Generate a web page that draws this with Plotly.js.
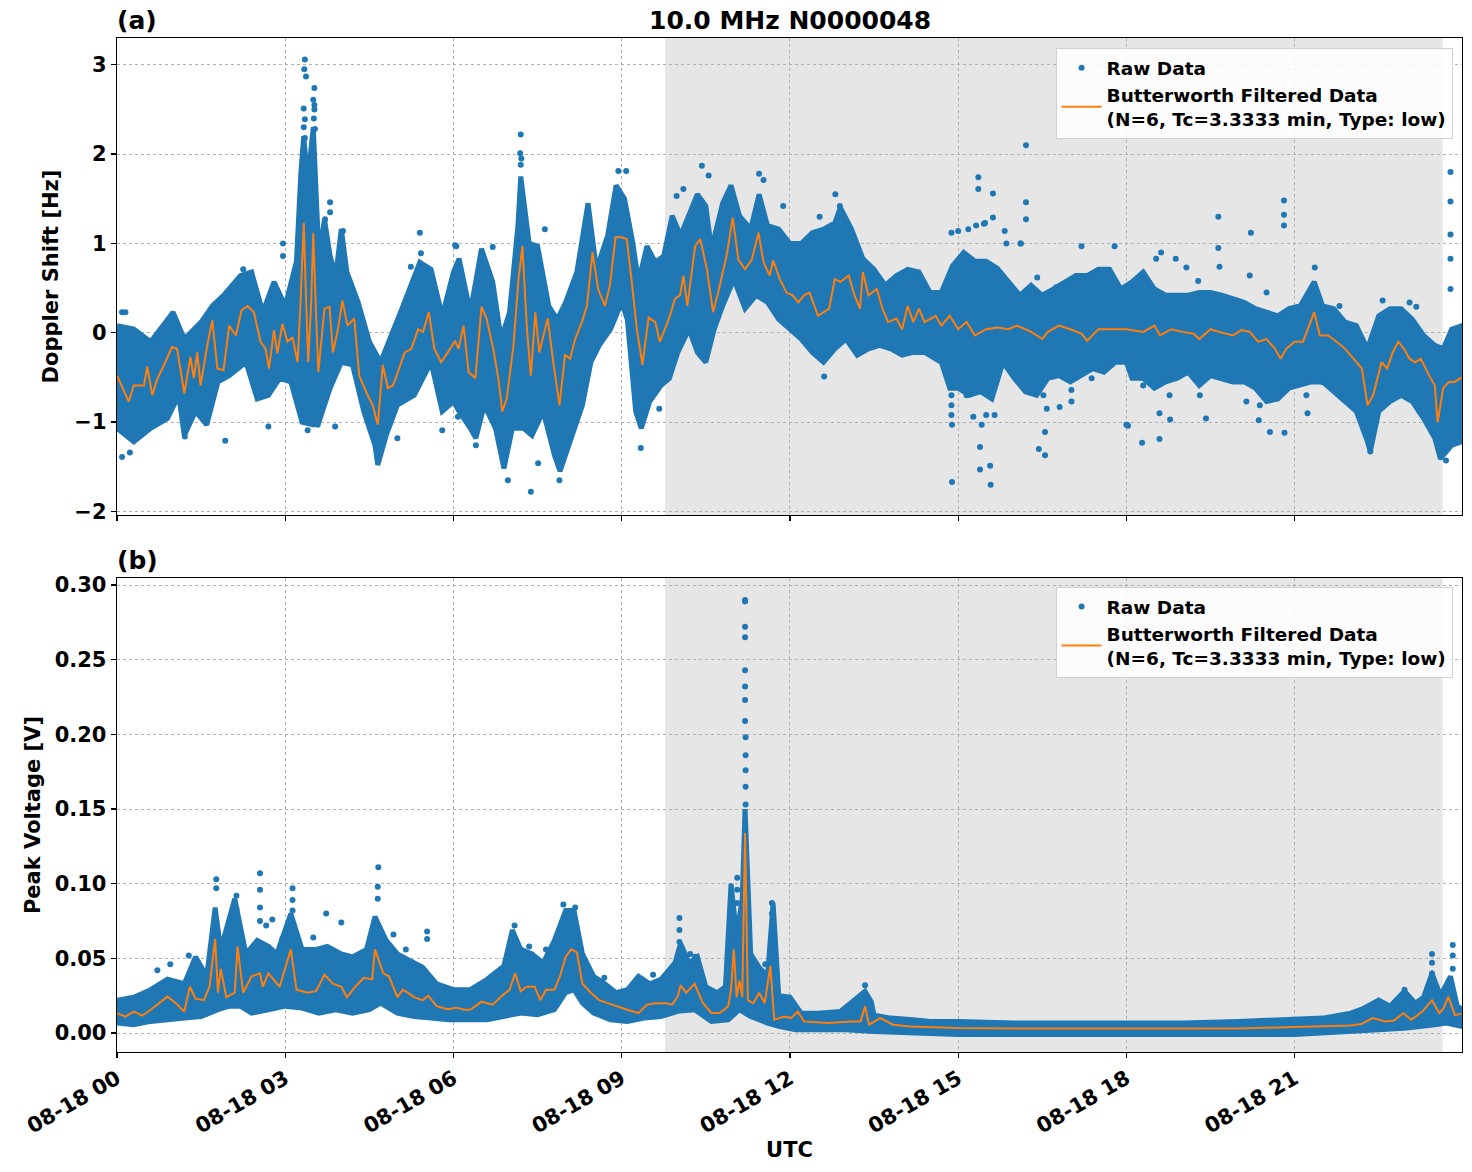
<!DOCTYPE html>
<html>
<head>
<meta charset="utf-8">
<script src="https://cdn.plot.ly/plotly-3.0.1.min.js"></script>
<style>html,body{margin:0;padding:0;background:#fff;}#chart{width:1472px;height:1172px;}</style>
</head>
<body>
<div id="chart"></div>
<script>
// ---------- DATA (hours UTC on 2024-08-18) ----------
// Panel (a): Doppler shift [Hz]
const filtA_h = [0.00,0.21,0.30,0.48,0.54,0.63,0.71,0.78,0.86,0.98,1.07,1.13,1.20,1.31,1.37,1.43,1.49,1.61,1.70,1.79,1.90,2.00,2.12,2.22,2.33,2.44,2.56,2.65,2.71,2.80,2.86,2.95,3.04,3.13,3.22,3.27,3.33,3.37,3.41,3.46,3.50,3.55,3.59,3.70,3.79,3.85,3.94,4.02,4.11,4.23,4.32,4.47,4.56,4.65,4.74,4.83,4.92,5.01,5.13,5.25,5.37,5.46,5.56,5.66,5.78,5.90,6.03,6.09,6.18,6.27,6.39,6.50,6.59,6.71,6.80,6.87,6.95,7.07,7.16,7.23,7.31,7.38,7.46,7.53,7.60,7.68,7.78,7.89,7.99,8.08,8.17,8.29,8.38,8.48,8.58,8.70,8.79,8.89,9.00,9.09,9.18,9.27,9.37,9.48,9.60,9.68,9.77,9.86,9.95,10.04,10.10,10.17,10.31,10.40,10.52,10.63,10.72,10.87,10.98,11.08,11.20,11.32,11.44,11.53,11.64,11.70,11.82,11.94,12.05,12.15,12.25,12.35,12.50,12.60,12.70,12.80,12.90,13.05,13.15,13.25,13.30,13.40,13.55,13.65,13.75,13.90,14.00,14.10,14.20,14.30,14.40,14.60,14.70,14.85,15.00,15.15,15.30,15.50,15.70,15.90,16.05,16.30,16.50,16.60,16.80,17.00,17.20,17.30,17.50,17.70,18.00,18.30,18.50,18.60,18.80,19.00,19.20,19.30,19.50,19.65,19.90,20.05,20.20,20.35,20.50,20.65,20.75,20.85,21.00,21.15,21.35,21.45,21.60,21.75,21.90,22.05,22.20,22.30,22.40,22.55,22.65,22.75,22.85,22.95,23.05,23.15,23.25,23.40,23.50,23.55,23.65,23.75,23.85,23.98];
const filtA_v = [-0.48,-0.77,-0.59,-0.59,-0.38,-0.70,-0.53,-0.44,-0.33,-0.16,-0.18,-0.40,-0.68,-0.27,-0.51,-0.22,-0.59,-0.14,0.14,-0.40,-0.42,0.08,-0.03,0.25,0.30,0.23,-0.10,-0.18,-0.40,0.03,-0.23,0.10,-0.10,-0.05,-0.33,0.30,1.23,0.40,-0.33,0.30,1.12,0.20,-0.44,0.27,0.29,-0.22,0.04,0.36,0.08,0.16,-0.48,-0.70,-0.81,-1.03,-0.36,-0.62,-0.59,-0.44,-0.22,-0.18,0.04,0.01,0.23,-0.18,-0.33,-0.22,-0.09,-0.18,0.08,-0.44,-0.51,0.29,0.16,-0.18,-0.51,-0.88,-0.74,-0.14,0.60,0.97,0.04,-0.48,0.23,-0.22,-0.03,0.16,-0.33,-0.81,-0.25,-0.29,-0.07,0.12,0.30,0.90,0.49,0.30,0.53,1.07,1.07,1.05,0.57,0.04,-0.36,0.17,0.12,-0.10,0.04,0.19,0.38,0.42,0.64,0.30,0.97,1.05,0.71,0.23,0.45,0.86,1.29,0.82,0.71,0.82,1.12,0.79,0.64,0.81,0.60,0.45,0.42,0.34,0.42,0.45,0.19,0.23,0.27,0.60,0.57,0.64,0.42,0.27,0.68,0.42,0.49,0.27,0.12,0.16,0.04,0.30,0.12,0.27,0.12,0.19,0.08,0.19,0.04,0.12,-0.03,0.04,0.06,0.04,0.08,0.01,-0.07,0.01,0.08,0.04,-0.01,-0.09,0.04,0.04,0.04,0.01,0.08,-0.03,0.04,0.01,-0.01,-0.07,0.04,0.01,-0.03,0.03,0.01,-0.10,-0.07,-0.18,-0.29,-0.18,-0.10,-0.10,0.23,-0.03,-0.03,-0.10,-0.18,-0.29,-0.40,-0.81,-0.70,-0.33,-0.40,-0.22,-0.10,-0.18,-0.29,-0.33,-0.29,-0.48,-0.59,-1.00,-0.62,-0.55,-0.55,-0.50];

const upA_h = [0.00,0.30,0.60,0.90,1.00,1.20,1.50,1.70,1.90,2.20,2.40,2.60,2.80,3.00,3.20,3.28,3.33,3.40,3.50,3.60,3.70,3.80,3.90,4.00,4.10,4.30,4.50,4.70,4.90,5.10,5.40,5.60,5.80,6.00,6.10,6.30,6.50,6.70,6.85,7.00,7.15,7.20,7.27,7.35,7.50,7.70,7.85,8.00,8.20,8.40,8.55,8.75,8.90,9.05,9.20,9.30,9.45,9.60,9.75,9.90,10.05,10.20,10.35,10.50,10.60,10.80,10.95,11.10,11.30,11.45,11.60,11.80,12.00,12.20,12.40,12.60,12.80,12.90,13.10,13.30,13.50,13.70,13.90,14.10,14.30,14.50,14.70,14.90,15.10,15.30,15.50,15.70,15.90,16.10,16.30,16.50,16.70,16.90,17.10,17.30,17.50,17.70,17.90,18.10,18.30,18.50,18.70,18.90,19.10,19.30,19.50,19.70,19.90,20.10,20.30,20.50,20.70,20.90,21.10,21.35,21.50,21.70,21.90,22.10,22.30,22.50,22.70,22.90,23.10,23.30,23.50,23.65,23.80,23.98];
const upA_v = [0.08,0.04,-0.10,0.16,0.23,-0.07,0.12,0.30,0.42,0.64,0.68,0.23,0.57,0.30,0.80,1.80,2.20,1.70,2.30,0.86,1.27,0.86,0.64,1.16,0.68,0.34,-0.10,-0.33,-0.03,0.30,0.79,0.71,0.19,0.68,0.83,0.23,0.94,0.57,-0.07,0.23,1.20,1.75,1.40,1.00,0.97,0.30,0.15,0.34,0.68,1.45,0.71,1.09,1.65,1.50,1.00,0.57,0.97,0.79,0.86,1.31,1.09,1.31,1.55,1.42,0.94,1.45,1.65,1.31,1.16,1.55,1.20,1.16,1.00,1.00,1.12,1.16,1.23,1.40,1.16,0.83,0.71,0.53,0.64,0.71,0.68,0.45,0.45,0.75,0.90,0.80,0.80,0.72,0.57,0.42,0.53,0.42,0.49,0.57,0.64,0.64,0.71,0.71,0.49,0.57,0.68,0.49,0.42,0.42,0.42,0.45,0.45,0.42,0.38,0.34,0.27,0.23,0.19,0.27,0.30,0.57,0.30,0.27,0.12,0.08,-0.18,0.19,0.27,0.27,0.15,-0.03,-0.14,-0.18,0.04,0.08];

const loA_h = [0.00,0.30,0.60,0.90,1.10,1.20,1.40,1.60,1.80,2.00,2.30,2.50,2.70,2.90,3.10,3.30,3.50,3.60,3.80,4.00,4.20,4.40,4.60,4.65,4.80,5.00,5.30,5.60,5.80,6.00,6.10,6.30,6.40,6.55,6.75,6.90,7.05,7.25,7.40,7.60,7.80,7.90,8.10,8.30,8.45,8.60,8.80,9.00,9.10,9.25,9.35,9.50,9.70,9.85,10.00,10.20,10.35,10.50,10.65,10.80,11.00,11.20,11.40,11.60,11.80,12.00,12.20,12.40,12.60,12.80,13.00,13.20,13.40,13.60,13.80,14.00,14.20,14.40,14.70,14.85,15.00,15.20,15.40,15.60,15.80,16.00,16.20,16.40,16.60,16.80,17.00,17.20,17.40,17.60,17.80,18.00,18.10,18.30,18.50,18.70,18.90,19.10,19.30,19.50,19.70,19.90,20.10,20.30,20.50,20.70,20.90,21.10,21.30,21.50,21.70,21.90,22.10,22.30,22.35,22.50,22.70,22.90,23.10,23.30,23.50,23.60,23.80,23.98];
const loA_v = [-1.07,-1.22,-1.07,-0.96,-0.70,-1.15,-0.88,-1.03,-0.55,-0.48,-0.33,-0.74,-0.70,-0.51,-0.55,-1.00,-1.03,-1.00,-0.62,-0.33,-0.36,-0.88,-1.26,-1.48,-1.15,-0.81,-0.70,-0.33,-0.88,-0.77,-0.88,-1.07,-1.18,-0.81,-1.07,-1.52,-1.07,-1.07,-1.15,-0.88,-1.37,-1.55,-1.18,-0.81,-0.33,-0.14,0.04,0.34,0.15,-0.88,-1.07,-0.77,-0.59,-0.51,-0.22,0.04,-0.22,-0.33,0.04,0.30,0.60,0.27,0.42,0.34,0.15,0.04,-0.07,-0.22,-0.33,-0.18,-0.07,-0.25,-0.18,-0.14,-0.18,-0.25,-0.22,-0.22,-0.33,-0.62,-0.62,-0.70,-0.66,-0.74,-0.33,-0.51,-0.66,-0.70,-0.51,-0.48,-0.55,-0.48,-0.40,-0.44,-0.33,-0.33,-0.51,-0.51,-0.62,-0.55,-0.51,-0.44,-0.59,-0.48,-0.51,-0.55,-0.55,-0.62,-0.77,-0.74,-0.62,-0.59,-0.55,-0.55,-0.66,-0.77,-0.88,-1.22,-1.33,-0.88,-0.77,-0.70,-0.77,-0.96,-1.18,-1.41,-1.26,-1.22];

const outA_h = [0.09,0.15,0.09,0.23,3.35,3.34,3.37,3.52,3.50,3.52,3.33,3.35,3.53,3.80,3.80,3.71,4.03,5.40,5.42,2.96,2.96,3.40,3.58,3.89,2.70,1.93,1.21,5.00,5.80,6.08,6.05,5.24,2.25,7.20,7.19,7.63,6.03,6.70,9.08,8.94,10.43,10.55,11.45,11.53,11.88,9.98,10.10,7.38,6.97,7.89,7.51,9.34,9.67,6.40,6.68,12.81,12.89,12.53,16.21,16.21,16.21,15.36,15.36,15.62,15.62,15.46,16.11,17.20,17.79,14.89,15.58,15.57,15.39,15.39,16.55,16.55,16.44,14.89,12.61,16.81,17.02,18.01,19.64,19.64,20.22,20.81,20.81,20.81,23.78,23.78,23.78,23.78,23.78,18.62,18.88,21.36,18.28,18.59,18.78,18.59,18.03,19.42,20.56,20.82,20.36,21.23,22.35,23.70,14.88,15.00,15.18,15.32,15.48,15.83,15.86,16.12,16.41,16.75,17.05,14.88,14.88,14.88,15.15,15.27,15.42,15.50,15.65,16.40,16.52,16.58,17.02,17.38,18.00,18.53,19.07,19.28,19.66,20.20,20.50,21.80,22.57,23.05,23.17,18.30,18.77,19.31,20.14,20.38,21.21,21.50,21.98,23.23,3.33,3.35,3.51,3.52,7.21,7.20];
const outA_v = [0.23,0.23,-1.39,-1.34,3.06,2.95,2.87,2.74,2.61,2.50,2.51,2.39,2.28,1.46,1.35,1.27,1.14,1.12,0.89,1.00,0.86,-1.09,-1.03,-1.05,-1.05,-1.21,-1.16,-1.18,-1.09,-0.94,0.97,0.74,0.71,2.22,2.01,1.16,0.98,0.96,1.81,1.81,1.87,1.76,1.78,1.71,1.42,1.53,1.61,-1.78,-1.65,-1.65,-1.46,-1.29,-0.85,-1.26,-0.86,1.55,1.42,1.30,2.10,1.46,1.27,1.74,1.61,1.56,1.29,1.22,1.00,0.97,0.97,-1.67,-1.70,-1.49,-1.53,-1.28,-1.11,-1.37,-1.30,-1.03,-0.49,-0.83,-0.77,-1.03,1.30,0.95,1.12,1.48,1.32,1.20,1.80,1.47,1.10,0.83,0.49,0.90,0.83,0.73,-1.23,-1.19,-0.97,-0.90,-1.04,-0.96,-1.11,-1.12,-0.98,-0.90,-1.33,-1.43,1.12,1.14,1.16,1.20,1.23,1.14,1.00,1.00,0.62,0.51,0.54,-0.70,-0.81,-0.92,-0.70,-0.94,-1.03,-0.92,-0.92,-0.62,-0.70,-0.85,-0.64,-0.51,-1.03,0.83,0.73,0.58,0.74,0.64,0.45,0.30,0.36,0.34,0.29,-0.59,-0.70,-0.70,-0.77,-0.81,-0.70,-0.55,-0.77,-0.88,2.30,2.18,2.40,2.55,1.95,1.88];

// Panel (b): Peak voltage [V]
const filtB_h = [0.00,0.15,0.30,0.45,0.60,0.75,0.90,1.05,1.20,1.30,1.40,1.55,1.65,1.75,1.80,1.85,1.95,2.10,2.15,2.25,2.40,2.55,2.60,2.70,2.90,3.10,3.20,3.40,3.55,3.70,3.85,4.00,4.10,4.25,4.40,4.55,4.60,4.75,4.85,5.00,5.10,5.30,5.45,5.55,5.70,5.90,6.05,6.20,6.30,6.50,6.70,6.85,7.00,7.10,7.20,7.30,7.45,7.55,7.65,7.80,7.90,8.00,8.10,8.20,8.30,8.45,8.60,8.75,8.90,9.10,9.30,9.45,9.60,9.80,9.90,10.00,10.05,10.15,10.30,10.45,10.60,10.75,10.90,10.95,11.00,11.05,11.10,11.15,11.20,11.25,11.35,11.45,11.55,11.65,11.72,11.90,12.02,12.14,12.25,12.68,13.10,13.26,13.34,13.41,13.61,13.84,14.15,14.65,15.00,16.00,17.00,18.00,19.00,20.00,21.00,21.50,22.00,22.19,22.39,22.62,22.77,22.94,23.08,23.28,23.45,23.58,23.66,23.74,23.86,23.98];
const filtB_v = [0.0133,0.011,0.0144,0.0116,0.0156,0.020,0.0244,0.020,0.0144,0.031,0.023,0.022,0.031,0.063,0.027,0.043,0.024,0.027,0.058,0.027,0.038,0.040,0.031,0.040,0.031,0.056,0.029,0.027,0.028,0.039,0.033,0.031,0.024,0.031,0.037,0.036,0.056,0.040,0.038,0.024,0.029,0.024,0.022,0.025,0.018,0.016,0.017,0.0156,0.0156,0.021,0.019,0.0245,0.029,0.040,0.028,0.031,0.031,0.022,0.029,0.029,0.038,0.051,0.056,0.054,0.033,0.027,0.022,0.020,0.018,0.0156,0.0134,0.019,0.020,0.020,0.019,0.0245,0.032,0.027,0.033,0.020,0.0134,0.0134,0.018,0.029,0.056,0.024,0.035,0.024,0.134,0.022,0.020,0.027,0.020,0.045,0.009,0.011,0.010,0.0144,0.0078,0.0067,0.0078,0.0078,0.018,0.0056,0.010,0.0056,0.0044,0.004,0.0033,0.003,0.003,0.003,0.003,0.0031,0.004,0.0044,0.005,0.006,0.010,0.0078,0.0084,0.0133,0.0089,0.0144,0.022,0.0133,0.0167,0.0244,0.012,0.013];

const upB_h = [0.00,0.30,0.60,0.90,1.20,1.40,1.60,1.75,1.85,2.10,2.30,2.50,2.70,2.85,3.10,3.30,3.55,3.75,4.00,4.20,4.45,4.60,4.80,5.00,5.20,5.45,5.70,6.00,6.30,6.60,6.90,7.05,7.20,7.40,7.60,7.80,8.00,8.15,8.30,8.50,8.70,8.90,9.10,9.30,9.50,9.70,9.95,10.05,10.20,10.35,10.50,10.70,10.85,10.95,11.05,11.15,11.20,11.30,11.45,11.60,11.70,11.80,12.00,12.20,12.50,12.90,13.34,13.45,13.50,13.80,14.20,14.50,15.00,16.00,17.00,18.00,19.00,20.00,21.00,21.50,22.00,22.20,22.50,22.70,22.96,23.15,23.30,23.45,23.60,23.78,23.90,23.98];
const upB_v = [0.022,0.024,0.029,0.036,0.033,0.051,0.038,0.084,0.056,0.090,0.053,0.062,0.058,0.053,0.080,0.056,0.056,0.058,0.053,0.051,0.056,0.078,0.062,0.053,0.049,0.044,0.033,0.029,0.029,0.036,0.045,0.069,0.056,0.053,0.047,0.062,0.082,0.082,0.053,0.038,0.033,0.027,0.029,0.038,0.033,0.036,0.047,0.060,0.047,0.051,0.031,0.027,0.031,0.100,0.065,0.090,0.150,0.053,0.044,0.038,0.087,0.025,0.024,0.0133,0.0133,0.0144,0.028,0.021,0.012,0.010,0.0089,0.0078,0.0078,0.0067,0.0067,0.0067,0.0067,0.0078,0.0089,0.010,0.0133,0.016,0.022,0.018,0.028,0.020,0.024,0.040,0.025,0.038,0.018,0.016];

const loB_h = [0.00,0.30,0.60,0.90,1.20,1.50,1.80,2.00,2.20,2.40,2.70,3.00,3.30,3.60,3.90,4.20,4.50,4.70,5.00,5.30,5.60,5.90,6.30,6.60,6.90,7.20,7.50,7.80,8.00,8.15,8.30,8.50,8.80,9.10,9.40,9.70,10.00,10.30,10.60,10.90,11.10,11.30,11.60,11.80,12.10,12.50,13.00,13.50,14.00,14.50,15.00,21.00,21.50,22.00,22.50,23.00,23.50,23.70,23.98];
const loB_v = [0.0067,0.0056,0.0078,0.0089,0.010,0.011,0.0156,0.018,0.018,0.0133,0.0156,0.018,0.0167,0.0133,0.0156,0.0133,0.0156,0.020,0.0133,0.011,0.010,0.0089,0.0089,0.0089,0.011,0.0134,0.0122,0.0156,0.027,0.029,0.020,0.0134,0.0089,0.0078,0.010,0.011,0.0145,0.0156,0.0078,0.0089,0.0156,0.011,0.0067,0.0045,0.0022,0.0022,0.0022,0.001,0.0,-0.0004,-0.001,-0.001,0.0,0.0011,0.0022,0.0033,0.0056,0.0067,0.0044];

const outB_h = [1.77,1.77,2.13,2.13,2.55,2.55,2.55,2.55,3.13,3.13,3.13,4.66,4.65,4.65,3.73,4.00,2.77,2.66,0.72,0.95,1.28,5.53,5.53,5.15,2.95,3.50,4.93,11.20,11.20,11.20,11.20,11.20,11.20,11.20,11.20,11.21,11.21,11.21,11.21,11.21,11.06,11.06,11.06,11.68,11.68,11.68,10.03,10.03,10.03,9.90,7.09,7.96,8.17,7.65,7.20,7.35,10.22,10.31,8.69,9.56,11.56,13.34,23.82,23.82,23.82,23.45,23.45,23.45,22.96,22.52];
const outB_v = [0.103,0.097,0.092,0.083,0.107,0.096,0.084,0.075,0.097,0.089,0.082,0.111,0.098,0.090,0.080,0.074,0.076,0.072,0.042,0.046,0.052,0.068,0.063,0.056,0.063,0.064,0.066,0.290,0.289,0.272,0.265,0.243,0.232,0.223,0.209,0.198,0.186,0.176,0.165,0.153,0.104,0.096,0.087,0.087,0.080,0.071,0.077,0.069,0.061,0.040,0.072,0.086,0.084,0.056,0.056,0.058,0.053,0.051,0.037,0.039,0.046,0.032,0.059,0.052,0.043,0.053,0.047,0.040,0.029,0.021];

const nightStart = 9.77, nightEnd = 23.64;
const xTickHours = [0,3,6,9,12,15,18,21];
const titleText = '10.0 MHz N0000048';
const legendFiltered = 'Butterworth Filtered Data<br>(N=6, Tc=3.3333 min, Type: low)';

// ---------- helpers ----------
function h2d(h){
  const ms = Date.UTC(2024,7,18) + Math.round(h*3600000);
  return new Date(ms).toISOString().replace('T',' ').slice(0,19);
}
const D = a => a.map(h2d);
function blob(uh, uv, lh, lv){
  return { x: D(uh.concat(lh.slice().reverse())), y: uv.concat(lv.slice().reverse()) };
}

const BLUE = '#1f77b4', ORANGE = '#ff7f0e';
const FAM = 'DejaVu Sans, sans-serif';
const F = s => ({family:FAM, size:s, color:'#000', weight:'bold'});

const bA = blob(upA_h, upA_v, loA_h, loA_v);
const bB = blob(upB_h, upB_v, loB_h, loB_v);

const traces = [
  {x:bA.x, y:bA.y, type:'scatter', mode:'lines', fill:'toself', fillcolor:BLUE,
   line:{color:BLUE, width:5}, xaxis:'x', yaxis:'y', showlegend:false, hoverinfo:'skip'},
  {x:D(outA_h), y:outA_v, type:'scatter', mode:'markers', name:'Raw Data',
   marker:{color:BLUE, size:6}, xaxis:'x', yaxis:'y', legend:'legend'},
  {x:D(filtA_h), y:filtA_v, type:'scatter', mode:'lines', name:legendFiltered,
   line:{color:ORANGE, width:2}, xaxis:'x', yaxis:'y', legend:'legend'},

  {x:bB.x, y:bB.y, type:'scatter', mode:'lines', fill:'toself', fillcolor:BLUE,
   line:{color:BLUE, width:5}, xaxis:'x2', yaxis:'y2', showlegend:false, hoverinfo:'skip'},
  {x:D(outB_h), y:outB_v, type:'scatter', mode:'markers', name:'Raw Data',
   marker:{color:BLUE, size:6}, xaxis:'x2', yaxis:'y2', legend:'legend2'},
  {x:D(filtB_h), y:filtB_v, type:'scatter', mode:'lines', name:legendFiltered,
   line:{color:ORANGE, width:2}, xaxis:'x2', yaxis:'y2', legend:'legend2'}
];

const xRange = [h2d(0), h2d(23.985)];
const commonX = {
  type:'date', range:xRange, tickmode:'array', tickvals:D(xTickHours),
  tickformat:'%m-%d %H', showgrid:true, gridcolor:'#b0b0b0', griddash:'dot', gridwidth:1,
  showline:true, linecolor:'#000', linewidth:1.3, mirror:true,
  ticks:'outside', ticklen:5, tickwidth:1.3, tickcolor:'#000',
  zeroline:false, tickfont:F(21)
};
const commonY = {
  showgrid:true, gridcolor:'#b0b0b0', griddash:'dot', gridwidth:1,
  showline:true, linecolor:'#000', linewidth:1.3, mirror:true,
  ticks:'outside', ticklen:5, tickwidth:1.3, tickcolor:'#000',
  zeroline:false, tickfont:F(21)
};

const yA0 = (1052-515)/1014, yB1 = (1052-578)/1014;

const legendBase = {x:0.993, xanchor:'right', yanchor:'top', bgcolor:'rgba(255,255,255,0.85)',
  bordercolor:'#d0d0d0', borderwidth:1, font:F(18.5), tracegroupgap:0, itemwidth:40};

const layout = {
  width:1472, height:1172,
  margin:{l:117, r:10, t:38, b:120},
  paper_bgcolor:'#fff', plot_bgcolor:'#fff',
  font:F(18),
  showlegend:true,
  xaxis: Object.assign({}, commonX, {anchor:'y', showticklabels:false}),
  xaxis2: Object.assign({}, commonX, {anchor:'y2', matches:'x', tickangle:-30,
    title:{text:'UTC', font:F(21), standoff:4}}),
  yaxis: Object.assign({}, commonY, {domain:[yA0,1], range:[-2.04,3.30], tickvals:[-2,-1,0,1,2,3],
    title:{text:'Doppler Shift [Hz]', font:F(21), standoff:10}}),
  yaxis2: Object.assign({}, commonY, {domain:[0,yB1], range:[-0.0127,0.3047], dtick:0.05, tick0:0, tickformat:'.2f',
    title:{text:'Peak Voltage [V]', font:F(21), standoff:8}}),
  legend:Object.assign({}, legendBase, {y:0.99}),
  legend2:Object.assign({}, legendBase, {y:(1052-587)/1014}),
  shapes:[
    {type:'rect', xref:'x', yref:'y domain', x0:h2d(nightStart), x1:h2d(nightEnd), y0:0, y1:1,
     fillcolor:'#e6e6e6', line:{width:0}, layer:'below'},
    {type:'rect', xref:'x2', yref:'y2 domain', x0:h2d(nightStart), x1:h2d(nightEnd), y0:0, y1:1,
     fillcolor:'#e6e6e6', line:{width:0}, layer:'below'}
  ],
  annotations:[
    {text:titleText, xref:'paper', yref:'paper', x:0.5, y:1, yanchor:'bottom', xanchor:'center',
     yshift:1, showarrow:false, font:F(25)},
    {text:'(a)', xref:'paper', yref:'paper', x:0, y:1, yanchor:'bottom', xanchor:'left',
     yshift:1, xshift:-2, showarrow:false, font:F(25)},
    {text:'(b)', xref:'paper', yref:'paper', x:0, y:yB1, yanchor:'bottom', xanchor:'left',
     yshift:1, xshift:-2, showarrow:false, font:F(25)}
  ]
};

Plotly.newPlot('chart', traces, layout, {displayModeBar:false, staticPlot:true});
</script>
</body>
</html>
